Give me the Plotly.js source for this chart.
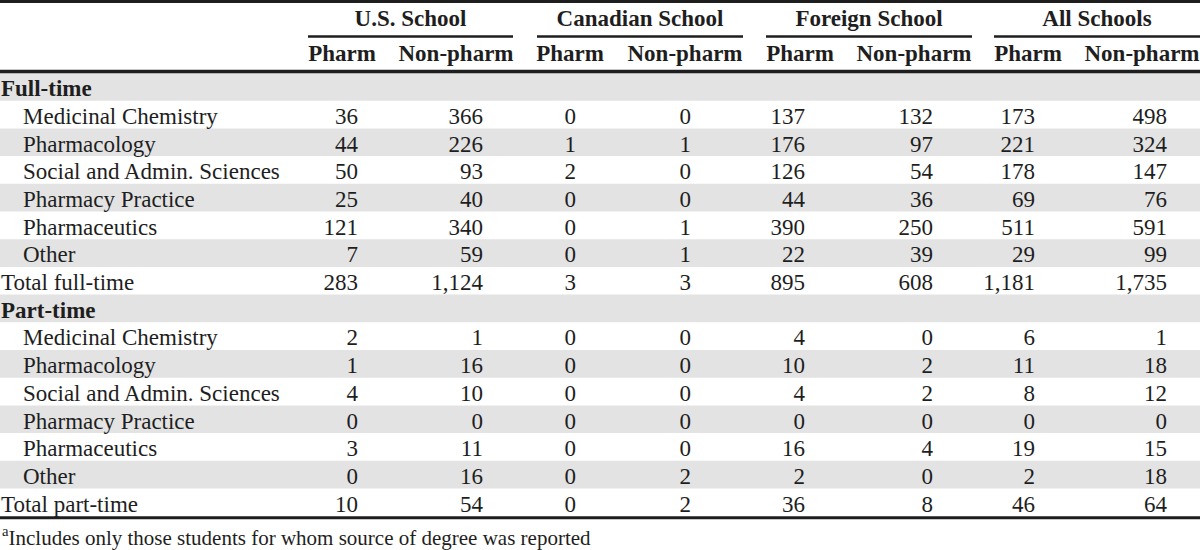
<!DOCTYPE html>
<html><head><meta charset="utf-8">
<script src="https://cdn.plot.ly/plotly-3.0.1.min.js"></script>
<style>html,body{margin:0;padding:0;background:#fff;}#chart{width:1200px;height:550px;}</style>
</head><body><div id="chart"></div>
<script>
// ---------- data ----------
const groups = ["U.S. School", "Canadian School", "Foreign School", "All Schools"];
const subHeaders = ["Pharm", "Non-pharm", "Pharm", "Non-pharm", "Pharm", "Non-pharm", "Pharm", "Non-pharm"];
const rowLabels = ["Full-time", "Medicinal Chemistry", "Pharmacology", "Social and Admin. Sciences", "Pharmacy Practice", "Pharmaceutics", "Other", "Total full-time",
                   "Part-time", "Medicinal Chemistry", "Pharmacology", "Social and Admin. Sciences", "Pharmacy Practice", "Pharmaceutics", "Other", "Total part-time"];
const rowKinds = ["section", "item", "item", "item", "item", "item", "item", "total",
                  "section", "item", "item", "item", "item", "item", "item", "total"];
const usPharm    = [null, 36, 44, 50, 25, 121, 7, 283,   null, 2, 1, 4, 0, 3, 0, 10];
const usNonPharm = [null, 366, 226, 93, 40, 340, 59, 1124, null, 1, 16, 10, 0, 11, 16, 54];
const caPharm    = [null, 0, 1, 2, 0, 0, 0, 3,          null, 0, 0, 0, 0, 0, 0, 0];
const caNonPharm = [null, 0, 1, 0, 0, 1, 1, 3,          null, 0, 0, 0, 0, 0, 2, 2];
const foPharm    = [null, 137, 176, 126, 44, 390, 22, 895, null, 4, 10, 4, 0, 16, 2, 36];
const foNonPharm = [null, 132, 97, 54, 36, 250, 39, 608,   null, 0, 2, 2, 0, 4, 0, 8];
const allPharm   = [null, 173, 221, 178, 69, 511, 29, 1181, null, 6, 11, 8, 0, 19, 2, 46];
const allNonPharm= [null, 498, 324, 147, 76, 591, 99, 1735, null, 1, 18, 12, 0, 15, 18, 64];
const footnoteMark = "a";
const footnoteText = "Includes only those students for whom source of degree was reported";

// ---------- layout geometry / style ----------
const columns = [usPharm, usNonPharm, caPharm, caNonPharm, foPharm, foNonPharm, allPharm, allNonPharm];
const colRight = [358, 483, 576, 691, 805, 933, 1035, 1167];
const subCenter = [342, 456, 570, 685, 800, 914, 1028, 1142];
const groupSpan = [[308, 513], [537, 743], [766, 972], [994, 1200]];
const bodyTop = 73, pitch = 27.7, textShift = 3.5;
const groupY = 20, subY = 55.5, underlineY = 36.5, headRuleY = 71.5;
const labelX = {section: 1, item: 23, total: 1};
const FONT = "Liberation Serif";
const INK = "#1e1e1e";
const BAND = "#e3e3e3";
const FS = 23;

const rowY = rowLabels.map((_, i) => bodyTop + (i + 0.5) * pitch + textShift);
const fmt = v => v.toLocaleString("en-US");

const traces = [];
columns.forEach((col, c) => {
  const xs = [], ys = [], ts = [];
  col.forEach((v, i) => { if (v !== null) { xs.push(colRight[c]); ys.push(rowY[i]); ts.push(fmt(v)); } });
  traces.push({type: "scatter", mode: "text", x: xs, y: ys, text: ts, textposition: "middle left",
    textfont: {family: FONT, size: FS, color: INK}, hoverinfo: "skip", showlegend: false, cliponaxis: false});
});
traces.push({type: "scatter", mode: "text",
  x: rowKinds.map(k => labelX[k]), y: rowY,
  text: rowLabels.map((l, i) => rowKinds[i] === "section" ? "<b>" + l + "</b>" : l),
  textposition: "middle right", textfont: {family: FONT, size: FS, color: INK},
  hoverinfo: "skip", showlegend: false, cliponaxis: false});
traces.push({type: "scatter", mode: "text",
  x: groupSpan.map(s => (s[0] + s[1]) / 2), y: groups.map(() => groupY),
  text: groups.map(g => "<b>" + g + "</b>"), textposition: "middle center",
  textfont: {family: FONT, size: FS, color: INK}, hoverinfo: "skip", showlegend: false, cliponaxis: false});
traces.push({type: "scatter", mode: "text",
  x: subCenter, y: subHeaders.map(() => subY),
  text: subHeaders.map(g => "<b>" + g + "</b>"), textposition: "middle center",
  textfont: {family: FONT, size: FS, color: INK}, hoverinfo: "skip", showlegend: false, cliponaxis: false});

const shapes = [];
rowLabels.forEach((_, i) => {
  if (i % 2 === 0) shapes.push({type: "rect", xref: "x", yref: "y", x0: 0, x1: 1200,
    y0: bodyTop + i * pitch, y1: bodyTop + (i + 1) * pitch, fillcolor: BAND, line: {width: 0}, layer: "below"});
});
const bodyBottom = bodyTop + rowLabels.length * pitch;
const hline = (y, w, x0, x1) => ({type: "line", xref: "x", yref: "y", x0: x0, x1: x1, y0: y, y1: y, line: {color: INK, width: w}});
shapes.push(hline(1.5, 3, 0, 1200));
shapes.push(hline(headRuleY, 3.5, 0, 1200));
shapes.push(hline(bodyBottom + 1.5, 3, 0, 1200));
groupSpan.forEach(s => shapes.push(hline(underlineY, 2.5, s[0], s[1])));

const layout = {
  width: 1200, height: 550, margin: {l: 0, r: 0, t: 0, b: 0},
  paper_bgcolor: "#ffffff", plot_bgcolor: "#ffffff",
  xaxis: {range: [0, 1200], visible: false, fixedrange: true},
  yaxis: {range: [550, 0], visible: false, fixedrange: true},
  shapes: shapes,
  annotations: [{xref: "x", yref: "y", x: 0, y: 536.5, xanchor: "left", yanchor: "middle", showarrow: false,
    text: "<sup>" + footnoteMark + "</sup>" + footnoteText, font: {family: FONT, size: 21, color: INK}}],
  showlegend: false
};
Plotly.newPlot("chart", traces, layout, {staticPlot: true, displayModeBar: false});
</script></body></html>
